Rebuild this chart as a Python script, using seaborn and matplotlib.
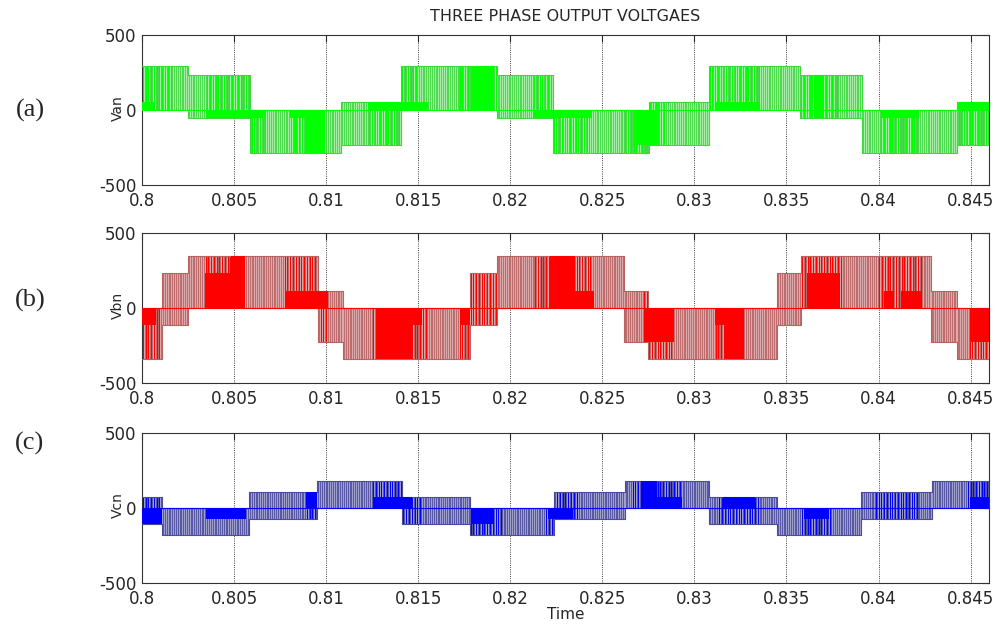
import numpy as np
import pandas as pd
import matplotlib
matplotlib.use("Agg")
import matplotlib.pyplot as plt
import seaborn as sns

# ---------------- data ----------------
x_ticks = [0.8, 0.805, 0.81, 0.815, 0.82, 0.825, 0.83, 0.835, 0.84, 0.845]
x_tick_labels = ["0.8", "0.805", "0.81", "0.815", "0.82", "0.825", "0.83", "0.835", "0.84", "0.845"]
y_ticks = [-500, 0, 500]
y_tick_labels = ["-500", "0", "500"]
panel_tags = ["(a)", "(b)", "(c)"]
y_names = ["Van", "Vbn", "Vcn"]
title_text = "THREE PHASE OUTPUT VOLTGAES"
x_name = "Time"

# Phase a : switching segments (edges in s, upper / lower level in V)
van_edges = [0.8, 0.8025, 0.80585, 0.81083, 0.81409, 0.81926, 0.82234, 0.82752,
             0.83078, 0.83576, 0.83911, 0.84428, 0.846]
van_high = [295, 235, 0, 55, 295, 235, 0, 55, 295, 235, 0, 55]
van_low = [0, -55, -290, -235, 0, -55, -290, -235, 0, -55, -290, -235]
# dense (solid looking) blocks: start, end, low, high
van_solid_t0 = [0.8, 0.8035, 0.80803, 0.80893, 0.81228, 0.8179, 0.82125, 0.82689, 0.83114, 0.83647, 0.84011, 0.84428]
van_solid_t1 = [0.80069, 0.80676, 0.80893, 0.80993, 0.81554, 0.81908, 0.82444, 0.82797, 0.83359, 0.83696, 0.84219, 0.846]
van_solid_lo = [0, -55, -55, -290, 0, 0, -55, -235, 0, -55, -55, 0]
van_solid_hi = [55, 0, 0, 0, 55, 295, 0, 0, 55, 235, 0, 55]
# stretches where the pulses look saturated (pure colour)
van_bright_t0 = [0.8, 0.8035, 0.80803, 0.81228, 0.81409, 0.8172, 0.82125, 0.8262, 0.83078, 0.83576, 0.8401, 0.8443]
van_bright_t1 = [0.8016, 0.8068, 0.8100, 0.81409, 0.8150, 0.81926, 0.8244, 0.8285, 0.83359, 0.8379, 0.8422, 0.846]

# Phase b
vbn_edges = [0.8, 0.80109, 0.8025, 0.80957, 0.81092, 0.81781, 0.81926, 0.82616,
             0.82746, 0.83449, 0.8358, 0.84283, 0.84424, 0.846]
vbn_high = [0, 230, 345, 115, 0, 230, 345, 115, 0, 230, 345, 115, 0]
vbn_low = [-340, -115, 0, -228, -340, -115, 0, -228, -340, -115, 0, -228, -340]
vbn_solid_t0 = [0.8, 0.80341, 0.80486, 0.80775, 0.81274, 0.81464, 0.81726, 0.82216, 0.82353,
                0.82725, 0.83114, 0.83159, 0.83612, 0.84029, 0.8412, 0.845]
vbn_solid_t1 = [0.80078, 0.80486, 0.80558, 0.81011, 0.81464, 0.81518, 0.81781, 0.82353, 0.82453,
                0.82888, 0.83159, 0.83268, 0.83793, 0.84083, 0.84228, 0.846]
vbn_solid_lo = [-115, 0, 0, 0, -340, -115, -115, 0, 0, -228, -115, -340, 0, 0, 0, -228]
vbn_solid_hi = [0, 230, 345, 115, 0, 0, 0, 345, 115, 0, 0, 0, 230, 115, 115, 0]
vbn_bright_t0 = [0.8, 0.8034, 0.8077, 0.8125, 0.8172, 0.8213, 0.8272, 0.8311, 0.8358, 0.8400, 0.8449]
vbn_bright_t1 = [0.80109, 0.8056, 0.8101, 0.8155, 0.8193, 0.8245, 0.8289, 0.8327, 0.8380, 0.8423, 0.846]

# Phase c
vcn_edges = [0.8, 0.80109, 0.80582, 0.80952, 0.8141, 0.81779, 0.82237, 0.82621,
             0.83079, 0.83449, 0.83907, 0.84291, 0.846]
vcn_high = [70, 0, 105, 180, 70, 0, 105, 180, 70, 0, 105, 180]
vcn_low = [-105, -180, -70, 0, -105, -180, -70, 0, -105, -180, -70, 0]
vcn_solid_t0 = [0.8, 0.80346, 0.80892, 0.81253, 0.81785, 0.82207, 0.8271, 0.82798, 0.83153, 0.83596, 0.84498]
vcn_solid_t1 = [0.80109, 0.80567, 0.80952, 0.81469, 0.81912, 0.8234, 0.82798, 0.82931, 0.8333, 0.83729, 0.846]
vcn_solid_lo = [-105, -70, 0, 0, -105, -70, 0, 0, 0, -70, 0]
vcn_solid_hi = [0, 0, 105, 70, 0, 0, 180, 70, 70, 0, 70]
vcn_bright_t0 = [0.8, 0.8089, 0.8125, 0.8178, 0.8219, 0.8266, 0.8313, 0.8358, 0.8398, 0.8448]
vcn_bright_t1 = [0.80109, 0.8095, 0.8151, 0.8195, 0.8236, 0.8293, 0.8336, 0.8374, 0.8422, 0.846]

# ---------------- styling ----------------
sns.set_style("white")
plt.rcParams["font.family"] = ["DejaVu Sans"]
plt.rcParams["axes.unicode_minus"] = False

pure_colors = ["#00ff00", "#ff0000", "#0000ff"]
muted_colors = ["#3fd63f", "#b86262", "#4a4a9e"]
tint_colors = ["#a6eea6", "#dcaaaa", "#a0a0cc"]
pulse_step = 0.0001  # carrier spacing used to draw the PWM pulses

fig = plt.figure(figsize=(10, 6.28), dpi=100)
positions = [[0.142, 0.7054, 0.847, 0.239],
             [0.142, 0.3901, 0.847, 0.2389],
             [0.142, 0.0709, 0.847, 0.2404]]

waves = [
    (van_edges, van_high, van_low, van_solid_t0, van_solid_t1, van_solid_lo, van_solid_hi,
     van_bright_t0, van_bright_t1),
    (vbn_edges, vbn_high, vbn_low, vbn_solid_t0, vbn_solid_t1, vbn_solid_lo, vbn_solid_hi,
     vbn_bright_t0, vbn_bright_t1),
    (vcn_edges, vcn_high, vcn_low, vcn_solid_t0, vcn_solid_t1, vcn_solid_lo, vcn_solid_hi,
     vcn_bright_t0, vcn_bright_t1),
]

tag_y = [110, 300, 443]       # pixel rows of the (a)/(b)/(c) tags
ylab_y = [108, 305, 505]

for i, (pos, wave) in enumerate(zip(positions, waves)):
    edges, hi, lo, s0, s1, slo, shi, b0, b1 = wave
    ax = fig.add_axes(pos)
    ax.set_axisbelow(True)
    pure, muted, tint = pure_colors[i], muted_colors[i], tint_colors[i]
    edges_arr = np.asarray(edges)
    hi_arr = np.asarray(hi)
    lo_arr = np.asarray(lo)

    # PWM pulses inside each segment
    for t0, t1, h, l in zip(edges[:-1], edges[1:], hi, lo):
        ax.fill_between([t0, t1], [l, l], [h, h], color=tint, linewidth=0, zorder=1.8)
        ts = np.arange(t0 + pulse_step / 2, t1, pulse_step)
        ax.vlines(ts, l, h, colors=muted, linewidth=0.6, zorder=2)

    # saturated pulse stretches
    for a, b in zip(b0, b1):
        ts = np.arange(a + pulse_step / 2, b, 1.5 * pulse_step)
        idx = np.clip(np.searchsorted(edges_arr, ts, side="right") - 1, 0, len(hi) - 1)
        ax.vlines(ts, lo_arr[idx], hi_arr[idx], colors=pure, linewidth=0.75, zorder=2.5)

    # envelopes with seaborn step lines
    df = pd.DataFrame({"t": edges,
                       "hi": list(hi) + [hi[-1]],
                       "lo": list(lo) + [lo[-1]]})
    sns.lineplot(data=df, x="t", y="hi", drawstyle="steps-post", color=muted,
                 linewidth=0.8, ax=ax, zorder=3)
    sns.lineplot(data=df, x="t", y="lo", drawstyle="steps-post", color=muted,
                 linewidth=0.8, ax=ax, zorder=3)

    # dense (solid) regions
    for a, b, l, h in zip(s0, s1, slo, shi):
        ax.fill_between([a, b], [l, l], [h, h], color=pure, linewidth=0, zorder=4)

    ax.axhline(0, color=pure, linewidth=0.8, zorder=3)

    ax.set_xlim(0.8, 0.846)
    ax.set_ylim(-500, 500)
    ax.set_xticks(x_ticks)
    ax.set_xticklabels(x_tick_labels)
    ax.set_yticks(y_ticks)
    ax.set_yticklabels(y_tick_labels)
    ax.grid(True, linestyle=":", color="black", linewidth=0.6)
    ax.tick_params(axis="both", which="both", direction="in", top=True, right=True,
                   length=5, width=0.8, labelsize=12)
    ax.tick_params(axis="x", pad=5)
    ax.tick_params(axis="y", pad=4)
    for sp in ax.spines.values():
        sp.set_color("#333333")
        sp.set_linewidth(0.8)
    ax.set_ylabel("")
    ax.set_xlabel("")

    fig.text(118 / 1000, 1 - ylab_y[i] / 628, y_names[i], rotation=90,
             ha="center", va="center", fontsize=10)
    fig.text(30 / 1000, 1 - tag_y[i] / 628, panel_tags[i], family="Liberation Serif",
             ha="center", va="center", fontsize=19)

    if i == 0:
        ax.set_title(title_text, fontsize=11.5, pad=10)
    if i == 2:
        ax.set_xlabel(x_name, fontsize=11, labelpad=-1)

fig.savefig("out.png", dpi=100)
